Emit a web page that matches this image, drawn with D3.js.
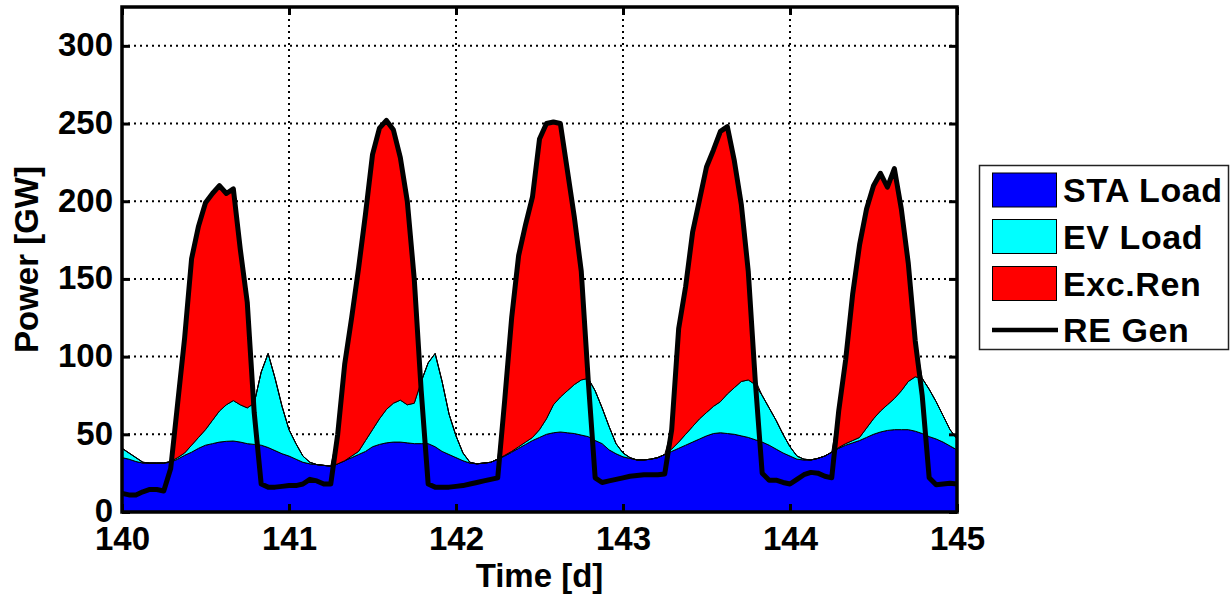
<!DOCTYPE html>
<html>
<head>
<meta charset="utf-8">
<script src="https://cdn.jsdelivr.net/npm/d3@7"></script>
<style>
body{margin:0;background:#fff}
text{font-family:"Liberation Sans",Arial,Helvetica,sans-serif;font-weight:bold;fill:#000}
.axis path{display:none}
.axis line{stroke:#000;stroke-width:3}
</style>
</head>
<body>
<svg id="chart" width="1231" height="597"></svg>
<script>
// hourly samples, day 140 .. 145
const timeDays = d3.range(0, 121).map(h => 140 + h / 24)

const staLoad = [
  35, 34, 32.5, 31.5, 31.5, 31.5, 31.5, 32, 34, 36.5, 38.5, 41, 43, 44, 45, 45.5, 45.7, 45, 44, 43.5, 43, 41.5, 39.5, 37.5,
  36, 34, 32, 31, 30.5, 30, 29.5, 31, 33, 35, 37, 39, 42, 43.5, 44.5, 45, 45, 44.5, 44, 44, 44, 42, 39, 37,
  35, 33, 31.5, 31, 31.5, 32, 34, 36, 38.5, 41, 43.5, 46, 48, 50, 51, 51.5, 51, 50.5, 49.5, 48.5, 46, 44, 40, 37.5,
  35.5, 34.5, 33.5, 33.5, 34, 35, 37, 39, 41, 43, 45, 47, 49, 50.5, 51, 50.5, 50, 49, 48, 46.5, 45, 43, 40.5, 38,
  36, 34, 33.5, 33.5, 34.5, 36, 38.5, 41, 43, 44.5, 46, 48, 50, 51.5, 52.5, 53, 53, 53, 52, 50.5, 48.5, 47, 45, 42.5, 40
]
const evLoad = [
  6, 4, 2.5, 0.5, 0, 0, 0, 0.5, 1, 1.5, 4.5, 7, 10, 15, 20, 23.5, 26, 24, 23, 26.5, 47, 60.5, 46.5, 30.5,
  17, 10, 4, 1, 0, 0, 0, 0, 0, 1, 2, 7, 11, 16.5, 21.5, 25, 27, 24.5, 26, 40, 52, 60, 45, 26,
  14, 5, 0.5, 0, 0, 0, 0, 0.5, 0.5, 1, 1.5, 2, 5, 10, 18, 22.5, 27, 31.5, 35.5, 37.5, 32, 23, 15, 6.5,
  2.5, 0.5, 0, 0, 0, 0, 0, 1.5, 4, 7, 10, 13, 15, 17.5, 20, 25.5, 30, 35, 37, 35.5, 30, 24, 18.5, 12,
  6, 2, 0.5, 0, 0, 0, 0, 0.5, 1, 1.5, 2, 6, 10, 13.5, 16.5, 20, 25, 31, 35, 35.5, 30.5, 24, 17, 10.5, 7
]
const reGen = [
  12, 11, 11, 13, 14.5, 14.5, 13.5, 28, 70, 112, 163, 184, 199, 205, 210, 205, 208, 169, 135, 64, 18, 16, 16, 16.5,
  17, 17, 18, 21, 20, 18, 18, 50, 95, 125, 157, 192, 230, 247, 252, 246, 228, 200, 150, 78, 18, 16, 16, 16,
  16.5, 17, 18, 19, 20, 21, 22, 72, 125, 165, 185, 203, 240, 250, 251, 250, 220, 190, 155, 85, 22, 19, 20, 21,
  22, 23, 23.5, 24, 24, 24, 24.5, 53, 118, 145, 180, 201, 222, 233, 245, 248, 226, 198, 155, 85, 25, 20.5, 20.5, 19,
  18, 21, 24, 25.5, 25, 23, 22, 65, 98, 140, 172, 195, 210, 218, 209, 221, 195, 160, 110, 75, 22, 17.5, 18, 18.5, 18
]

const seriesNames = ["STA Load", "EV Load", "Exc.Ren", "RE Gen"]
const seriesColors = ["#0000ff", "#00ffff", "#ff0000", "#000000"]
const xTicks = [140, 141, 142, 143, 144, 145]
const yTicks = [0, 50, 100, 150, 200, 250, 300]

const plotLeft = 122, plotRight = 957, plotTop = 7, plotBottom = 512

let svg = d3.select("#chart")
let xScale = d3.scaleLinear().domain([140, 145]).range([plotLeft, plotRight])
let yScale = d3.scaleLinear().domain([0, 325]).range([plotBottom, plotTop])

// rows for the stacked areas
let rows = timeDays.map((t, i) => {
    let sta = staLoad[i]
    let tot = sta + evLoad[i]
    return {t: t, sta: sta, tot: tot, top: Math.max(tot, reGen[i]), re: reGen[i]}
})

// grid
let grid = svg.append("g")
grid.selectAll(".gx").data(xTicks.slice(1, -1)).enter().append("line")
    .attr("x1", d => xScale(d)).attr("x2", d => xScale(d))
    .attr("y1", plotTop).attr("y2", plotBottom)
    .attr("stroke", "#000").attr("stroke-width", 2).attr("stroke-dasharray", "2,4")
grid.selectAll(".gy").data(yTicks.slice(1)).enter().append("line")
    .attr("x1", plotLeft).attr("x2", plotRight)
    .attr("y1", d => yScale(d)).attr("y2", d => yScale(d))
    .attr("stroke", "#000").attr("stroke-width", 2).attr("stroke-dasharray", "2,4")

// stacked areas
let areaSta = d3.area().x(d => xScale(d.t)).y0(yScale(0)).y1(d => yScale(d.sta))
let areaEv = d3.area().x(d => xScale(d.t)).y0(d => yScale(d.sta)).y1(d => yScale(d.tot))
let areaExc = d3.area().x(d => xScale(d.t)).y0(d => yScale(d.tot)).y1(d => yScale(d.top))

svg.append("path").datum(rows).attr("d", areaSta)
    .attr("fill", seriesColors[0]).attr("stroke", "#000").attr("stroke-width", 1)
svg.append("path").datum(rows).attr("d", areaEv)
    .attr("fill", seriesColors[1]).attr("stroke", "#000").attr("stroke-width", 1)
svg.append("path").datum(rows).attr("d", areaExc)
    .attr("fill", seriesColors[2]).attr("stroke", "#000").attr("stroke-width", 1)

// RE generation line
let reLine = d3.line().x(d => xScale(d.t)).y(d => yScale(d.re))
svg.append("path").datum(rows).attr("d", reLine)
    .attr("fill", "none").attr("stroke", "#000").attr("stroke-width", 5)
    .attr("stroke-linejoin", "round")

// axes with inward ticks
let x_axis = d3.axisBottom(xScale).tickValues(xTicks).tickSize(-8).tickPadding(15).tickFormat(d3.format("d"))
let y_axis = d3.axisLeft(yScale).tickValues(yTicks).tickSize(-8).tickPadding(9).tickFormat(d3.format("d"))
svg.append("g").attr("class", "axis").attr("transform", `translate(0,${plotBottom})`).call(x_axis)
    .selectAll("text").style("font-size", "33px")
svg.append("g").attr("class", "axis").attr("transform", `translate(${plotLeft},0)`).call(y_axis)
    .selectAll("text").style("font-size", "33px").attr("dy", "0.3em")
svg.append("g").attr("class", "axis").attr("transform", `translate(0,${plotTop})`)
    .call(d3.axisTop(xScale).tickValues(xTicks).tickSize(-8).tickFormat(""))
svg.append("g").attr("class", "axis").attr("transform", `translate(${plotRight},0)`)
    .call(d3.axisRight(yScale).tickValues(yTicks).tickSize(-8).tickFormat(""))

// plot box
svg.append("rect").attr("x", plotLeft).attr("y", plotTop)
    .attr("width", plotRight - plotLeft).attr("height", plotBottom - plotTop)
    .attr("fill", "none").attr("stroke", "#000").attr("stroke-width", 3.5)

// labels
svg.append("text").attr("x", (plotLeft + plotRight) / 2).attr("y", 587)
    .attr("text-anchor", "middle").style("font-size", "33px").text("Time [d]")
svg.append("g").attr("transform", `translate(38,${(plotTop + plotBottom) / 2}) rotate(-90)`)
    .append("text").attr("text-anchor", "middle").style("font-size", "33px").text("Power [GW]")

// legend
let legend = svg.append("g")
legend.append("rect").attr("x", 979.5).attr("y", 165.5).attr("width", 249).attr("height", 184)
    .attr("fill", "#fff").attr("stroke", "#222").attr("stroke-width", 1.5)
let rowY = [190, 236.5, 283.5, 330]
seriesNames.forEach((name, i) => {
    if (i < 3) {
        legend.append("rect").attr("x", 992.5).attr("y", rowY[i] - 17).attr("width", 64).attr("height", 34)
            .attr("fill", seriesColors[i]).attr("stroke", "#000").attr("stroke-width", 1)
    } else {
        legend.append("line").attr("x1", 992).attr("x2", 1058).attr("y1", rowY[i]).attr("y2", rowY[i])
            .attr("stroke", "#000").attr("stroke-width", 4.5)
    }
    legend.append("text").attr("x", 1063).attr("y", rowY[i]).attr("dy", "0.36em")
        .style("font-size", "34px").style("letter-spacing", "0.6px").text(name)
})
</script>
</body>
</html>
